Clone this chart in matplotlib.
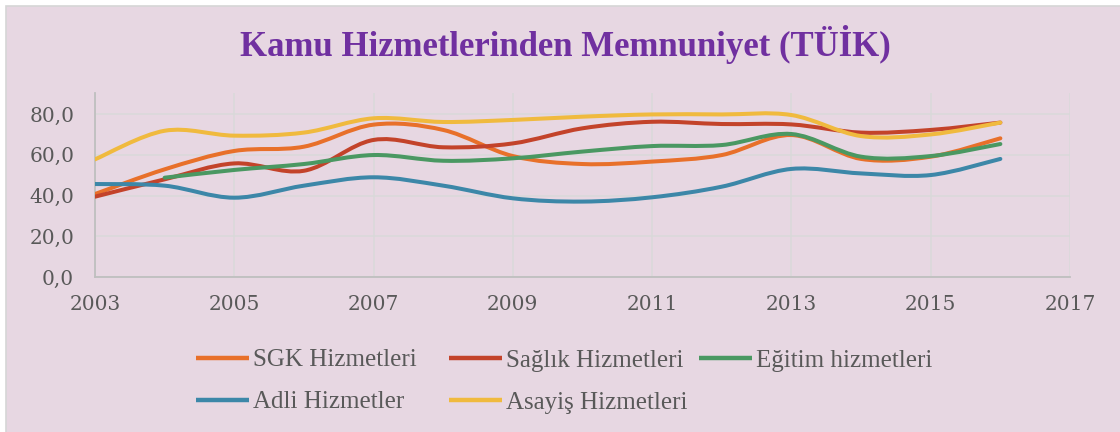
import numpy as np
import matplotlib
matplotlib.use("Agg")
import matplotlib.pyplot as plt
from matplotlib.path import Path
from matplotlib.patches import PathPatch, Rectangle
from matplotlib.lines import Line2D
from matplotlib.ticker import FuncFormatter, FixedLocator

years = [2003, 2004, 2005, 2006, 2007, 2008, 2009, 2010, 2011, 2012, 2013, 2014, 2015, 2016]
sgk = [40.8, 52.9, 61.9, 64.0, 74.8, 72.2, 59.4, 55.5, 56.7, 59.9, 69.7, 58.0, 59.1, 68.1]
saglik = [39.5, 48.0, 55.8, 52.2, 67.3, 63.7, 65.6, 73.0, 76.2, 75.1, 74.9, 70.9, 72.2, 75.8]
egitim = [None, 48.8, 52.6, 55.5, 59.9, 57.1, 58.3, 61.6, 64.3, 64.8, 70.2, 59.1, 59.4, 65.3]
adli = [45.7, 44.9, 39.0, 44.9, 49.0, 44.9, 38.7, 37.1, 39.2, 44.4, 53.1, 50.9, 50.1, 58.0]
asayis = [57.8, 71.8, 69.4, 70.9, 77.9, 76.1, 77.1, 78.7, 79.8, 79.8, 79.5, 69.2, 70.0, 75.8]

xticks = [2003, 2005, 2007, 2009, 2011, 2013, 2015, 2017]
yticks = [0, 20, 40, 60, 80]

labels = ["SGK Hizmetleri", "Sağlık Hizmetleri", "Eğitim hizmetleri", "Adli Hizmetler", "Asayiş Hizmetleri"]
series = [sgk, saglik, egitim, adli, asayis]
colors = ["#E8702A", "#C3432A", "#4A9862", "#3C87A8", "#F0BA3E"]

title = "Kamu Hizmetlerinden Memnuniyet (TÜİK)"
bg = "#E7D7E2"

fig = plt.figure(figsize=(11.2, 4.32), dpi=100)
fig.patch.set_facecolor("white")
fig.patches.append(Rectangle((6 / 1120, -0.01), 1.0, (432 - 6) / 432 + 0.01,
                             transform=fig.transFigure, facecolor=bg,
                             edgecolor="#D6D6D6", lw=1.2, zorder=-5))

ax = fig.add_axes([95 / 1120, 1 - 277.3 / 432, (1070 - 95) / 1120, (277.3 - 93) / 432])
ax.set_zorder(2)
ax.set_facecolor("none")
ax.set_xlim(2003, 2017)
ax.set_ylim(0, 90.3)
ax.xaxis.set_major_locator(FixedLocator(xticks))
ax.yaxis.set_major_locator(FixedLocator(yticks))
ax.yaxis.set_major_formatter(FuncFormatter(lambda v, p: f"{v:.1f}".replace(".", ",")))
ax.xaxis.set_major_formatter(FuncFormatter(lambda v, p: f"{int(round(v))}"))
ax.grid(True, color="#D9D9D9", lw=1.1)
ax.set_axisbelow(True)
for s in ["top", "right"]:
    ax.spines[s].set_visible(False)
for s in ["left", "bottom"]:
    ax.spines[s].set_color("#BFBFBF")
    ax.spines[s].set_linewidth(1.3)
ax.tick_params(axis="both", length=0, labelsize=14.5, labelcolor="#595959")
ax.tick_params(axis="y", pad=15)
ax.tick_params(axis="x", pad=13)
for t in ax.get_xticklabels() + ax.get_yticklabels():
    t.set_fontfamily("DejaVu Serif")


def smooth_path(xs, ys):
    pts = [(x, y) for x, y in zip(xs, ys) if y is not None]
    p = np.array(pts, dtype=float)
    n = len(p)
    verts = [tuple(p[0])]
    codes = [Path.MOVETO]
    for i in range(n - 1):
        p0 = p[i - 1] if i > 0 else p[i]
        p1 = p[i]
        p2 = p[i + 1]
        p3 = p[i + 2] if i + 2 < n else p[i + 1]
        c1 = p1 + (p2 - p0) / 6.0
        c2 = p2 - (p3 - p1) / 6.0
        verts += [tuple(c1), tuple(c2), tuple(p2)]
        codes += [Path.CURVE4] * 3
    return Path(verts, codes)


handles = []
for vals, col, lab in zip(series, colors, labels):
    patch = PathPatch(smooth_path(years, vals), facecolor="none", edgecolor=col,
                      lw=2.9, capstyle="round", joinstyle="round", zorder=3)
    ax.add_patch(patch)
    handles.append(Line2D([], [], color=col, lw=3.2, solid_capstyle="butt", label=lab))

fig.text(565 / 1120, 1 - 44 / 432, title, ha="center", va="center",
         fontsize=25, fontweight="bold", color="#7030A0", family="Liberation Serif")

# legend: three columns placed like the reference (rows: SGK, Sağlık, Eğitim / Adli, Asayiş)
columns = [([0, 3], 196), ([1, 4], 449), ([2], 699)]
for idx, xpix in columns:
    leg = fig.legend(handles=[handles[i] for i in idx], loc="upper left",
                     bbox_to_anchor=(xpix / 1120, 1 - 349 / 432),
                     frameon=False, prop={"family": "Liberation Serif", "size": 18},
                     handlelength=2.1, handletextpad=0.18, labelspacing=0.78,
                     borderpad=0, borderaxespad=0)
    for t in leg.get_texts():
        t.set_color("#595959")

fig.savefig("out.png", dpi=100, facecolor=fig.get_facecolor())
